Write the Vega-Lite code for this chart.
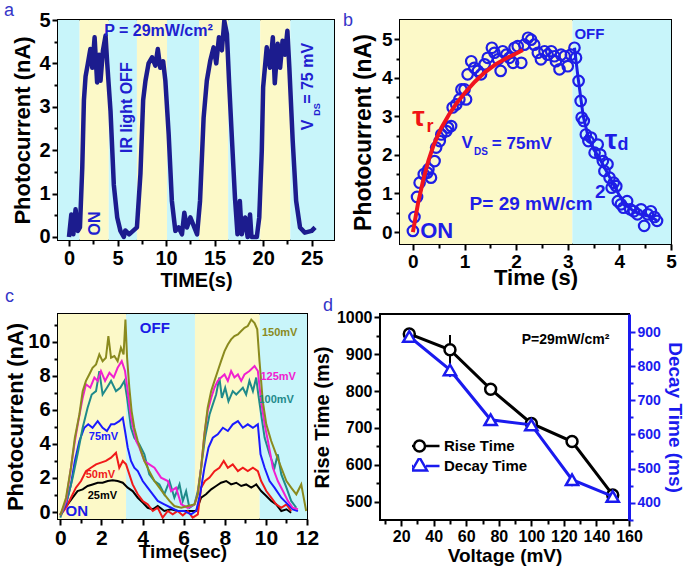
{
  "$schema": "https://vega.github.io/schema/vega-lite/v6.json",
  "padding": {"left": 3, "top": 1, "right": 0, "bottom": 0},
  "config": {
    "font": "Liberation Sans",
    "view": {"stroke": "black", "strokeWidth": 2},
    "axis": {"labelFont": "Liberation Sans", "labelFontWeight": "bold", "labelColor": "black", "titleFont": "Liberation Sans", "titleFontWeight": "bold", "titleColor": "black", "grid": false, "domain": false, "tickColor": "black", "tickWidth": 2, "tickSize": 6, "labelPadding": 2, "labelFlush": false},
    "title": {"anchor": "start", "frame": "group", "fontWeight": "normal", "color": "#3535c8", "fontSize": 18, "font": "Liberation Sans"},
    "legend": {"padding": 0}
  },
  "vconcat": [
    {
      "bounds": "flush",
      "spacing": 66,
      "hconcat": [
        {
          "width": 276, "height": 220,
          "title": {"text": "a", "dx": -54, "offset": -10},
          "resolve": {"axis": {"x": "independent", "y": "independent"}},
          "layer": [
            {
              "data": {"values": [
                {"x0": -1.13, "x1": 1.1, "c": "off"}, {"x0": 1.1, "x1": 4.1, "c": "on"}, {"x0": 4.1, "x1": 7.0, "c": "off"},
                {"x0": 7.0, "x1": 10.1, "c": "on"}, {"x0": 10.1, "x1": 13.4, "c": "off"}, {"x0": 13.4, "x1": 16.4, "c": "on"},
                {"x0": 16.4, "x1": 19.7, "c": "off"}, {"x0": 19.7, "x1": 22.8, "c": "on"}, {"x0": 22.8, "x1": 27.3, "c": "off"}
              ]},
              "mark": {"type": "rect", "clip": true},
              "encoding": {
                "x": {"field": "x0", "type": "quantitative", "scale": {"domain": [-1.13, 27.3], "nice": false, "zero": false}, "axis": {"values": [2.5, 7.5, 12.5, 17.5, 22.5, 27.5], "labels": false, "tickSize": 4, "title": null, "orient": "bottom"}},
                "x2": {"field": "x1"},
                "color": {"field": "c", "type": "nominal", "scale": {"domain": ["on", "off"], "range": ["#fcf9c8", "#c8f5fa"]}, "legend": null}
              }
            },
            {
              "data": {"values": [
                {"t": 0, "i": 0}, {"t": 0.24, "i": 0.52}, {"t": 0.45, "i": 0.06}, {"t": 0.68, "i": 0.64}, {"t": 0.92, "i": 0.14}, {"t": 1.13, "i": 0.22},
                {"t": 1.37, "i": 1.6}, {"t": 1.54, "i": 3.15}, {"t": 1.71, "i": 3.7}, {"t": 1.95, "i": 4.0}, {"t": 2.2, "i": 4.33}, {"t": 2.4, "i": 3.9},
                {"t": 2.64, "i": 4.6}, {"t": 2.9, "i": 3.56}, {"t": 3.1, "i": 4.2}, {"t": 3.25, "i": 3.6}, {"t": 3.5, "i": 4.3}, {"t": 3.77, "i": 4.64},
                {"t": 3.94, "i": 4.0}, {"t": 4.28, "i": 2.9}, {"t": 4.62, "i": 1.2}, {"t": 4.97, "i": 0.45}, {"t": 5.3, "i": 0.14}, {"t": 5.65, "i": 0},
                {"t": 5.8, "i": 0.15}, {"t": 6.2, "i": 0.06}, {"t": 7.0, "i": 0.22}, {"t": 7.36, "i": 1.45}, {"t": 7.64, "i": 3.15}, {"t": 7.88, "i": 3.6},
                {"t": 8.2, "i": 4.0}, {"t": 8.56, "i": 4.14}, {"t": 8.9, "i": 3.95}, {"t": 9.15, "i": 4.33}, {"t": 9.4, "i": 3.9}, {"t": 9.7, "i": 4.05},
                {"t": 9.93, "i": 3.6}, {"t": 10.27, "i": 2.37}, {"t": 10.6, "i": 0.83}, {"t": 10.96, "i": 0.14}, {"t": 11.3, "i": 0.22}, {"t": 11.64, "i": 0.06},
                {"t": 11.88, "i": 0.56}, {"t": 12.15, "i": 0.22}, {"t": 12.5, "i": 0.45}, {"t": 13.2, "i": 0.06}, {"t": 13.5, "i": 0.83}, {"t": 13.87, "i": 2.75},
                {"t": 14.2, "i": 3.6}, {"t": 14.55, "i": 4.06}, {"t": 14.9, "i": 4.37}, {"t": 15.17, "i": 4.0}, {"t": 15.45, "i": 4.6}, {"t": 15.75, "i": 4.3},
                {"t": 16.0, "i": 4.98}, {"t": 16.27, "i": 4.68}, {"t": 16.5, "i": 3.54}, {"t": 16.8, "i": 2.2}, {"t": 17.1, "i": 0.9}, {"t": 17.36, "i": 0.06},
                {"t": 17.6, "i": 0.83}, {"t": 17.8, "i": 0.06}, {"t": 18.15, "i": 0.45}, {"t": 18.4, "i": 0}, {"t": 18.65, "i": 0.52}, {"t": 18.8, "i": 0},
                {"t": 19.35, "i": 0}, {"t": 19.6, "i": 0.45}, {"t": 19.86, "i": 1.98}, {"t": 20.0, "i": 3.45}, {"t": 20.37, "i": 4.37}, {"t": 20.7, "i": 3.9},
                {"t": 21.0, "i": 4.6}, {"t": 21.2, "i": 3.54}, {"t": 21.5, "i": 4.45}, {"t": 21.75, "i": 3.9}, {"t": 22.0, "i": 4.52}, {"t": 22.25, "i": 4.2},
                {"t": 22.5, "i": 4.75}, {"t": 22.7, "i": 3.9}, {"t": 23.05, "i": 2.2}, {"t": 23.4, "i": 0.83}, {"t": 23.8, "i": 0.22}, {"t": 24.3, "i": 0.1},
                {"t": 25.0, "i": 0.14}, {"t": 25.35, "i": 0.22}
              ]},
              "mark": {"type": "line", "color": "#1c1c8e", "strokeWidth": 4.5, "strokeJoin": "round", "clip": true},
              "encoding": {
                "x": {"field": "t", "type": "quantitative", "scale": {"domain": [-1.13, 27.3], "nice": false, "zero": false}, "axis": {"values": [0, 5, 10, 15, 20, 25], "title": "TIME(s)", "labelFontSize": 20, "titleFontSize": 20, "orient": "bottom", "titlePadding": 2}},
                "y": {"field": "i", "type": "quantitative", "scale": {"domain": [-0.07, 5], "nice": false, "zero": false}, "axis": {"values": [0, 1, 2, 3, 4, 5], "title": "Photocurrent (nA)", "labelFontSize": 20, "titleFontSize": 22, "orient": "left", "titlePadding": 4}}
              }
            },
            {
              "data": {"values": [{"t": 9.22, "i": 4.75, "s": "P = 29mW/cm²"}]},
              "mark": {"type": "text", "color": "#2020d0", "fontWeight": "bold", "fontSize": 16},
              "encoding": {
                "x": {"field": "t", "type": "quantitative", "axis": null},
                "y": {"field": "i", "type": "quantitative", "axis": {"values": [0.5, 1.5, 2.5, 3.5, 4.5], "labels": false, "tickSize": 4, "title": null, "orient": "left"}},
                "text": {"field": "s"}
              }
            },
            {
              "data": {"values": [{"t": 6.0, "i": 2.98, "s": "IR light OFF"}, {"t": 2.65, "i": 0.31, "s": "ON"}, {"t": 24.65, "i": 2.58, "s": "V"}, {"t": 24.65, "i": 3.77, "s": "= 75 mV"}]},
              "mark": {"type": "text", "color": "#2020d0", "fontWeight": "bold", "fontSize": 16, "angle": 270},
              "encoding": {
                "x": {"field": "t", "type": "quantitative", "axis": null},
                "y": {"field": "i", "type": "quantitative", "axis": null},
                "text": {"field": "s"}
              }
            },
            {
              "data": {"values": [{"t": 25.6, "i": 2.94, "s": "DS"}]},
              "mark": {"type": "text", "color": "#2020d0", "fontWeight": "bold", "fontSize": 9, "angle": 270},
              "encoding": {
                "x": {"field": "t", "type": "quantitative", "axis": null},
                "y": {"field": "i", "type": "quantitative", "axis": null},
                "text": {"field": "s"}
              }
            }
          ]
        },
        {
          "width": 271, "height": 224,
          "title": {"text": "b", "dx": -57, "offset": -10},
          "resolve": {"scale": {"color": "independent"}, "axis": {"x": "independent", "y": "independent"}},
          "layer": [
            {
              "data": {"values": [{"x0": -0.25, "x1": 3.09, "c": "on"}, {"x0": 3.09, "x1": 5, "c": "off"}]},
              "mark": {"type": "rect", "clip": true},
              "encoding": {
                "x": {"field": "x0", "type": "quantitative", "scale": {"domain": [-0.25, 5], "nice": false, "zero": false}, "axis": {"values": [0.5, 1.5, 2.5, 3.5, 4.5], "labels": false, "tickSize": 4, "title": null, "orient": "bottom"}},
                "x2": {"field": "x1"},
                "color": {"field": "c", "type": "nominal", "scale": {"domain": ["on", "off"], "range": ["#fcf9c8", "#c8f5fa"]}, "legend": null}
              }
            },
            {
              "data": {"values": [
                {"t": 0, "i": 0.03}, {"t": 0.03, "i": 0.39}, {"t": 0.08, "i": 0.91}, {"t": 0.13, "i": 1.28}, {"t": 0.21, "i": 1.5}, {"t": 0.28, "i": 1.54},
                {"t": 0.3, "i": 1.63}, {"t": 0.35, "i": 1.41}, {"t": 0.42, "i": 1.84}, {"t": 0.45, "i": 2.19}, {"t": 0.52, "i": 2.36}, {"t": 0.55, "i": 2.53},
                {"t": 0.65, "i": 2.62}, {"t": 0.68, "i": 2.71}, {"t": 0.74, "i": 2.75}, {"t": 0.77, "i": 3.23}, {"t": 0.84, "i": 3.31}, {"t": 0.9, "i": 3.44},
                {"t": 0.94, "i": 3.7}, {"t": 1.0, "i": 3.7}, {"t": 1.03, "i": 3.44}, {"t": 1.06, "i": 4.09}, {"t": 1.13, "i": 4.43}, {"t": 1.19, "i": 4.26},
                {"t": 1.26, "i": 4.18}, {"t": 1.32, "i": 4.09}, {"t": 1.39, "i": 4.35}, {"t": 1.45, "i": 4.52}, {"t": 1.53, "i": 4.78}, {"t": 1.58, "i": 4.65},
                {"t": 1.65, "i": 4.48}, {"t": 1.7, "i": 4.18}, {"t": 1.74, "i": 4.69}, {"t": 1.81, "i": 4.6}, {"t": 1.87, "i": 4.52}, {"t": 1.94, "i": 4.39},
                {"t": 1.97, "i": 4.78}, {"t": 2.03, "i": 4.82}, {"t": 2.1, "i": 4.39}, {"t": 2.16, "i": 4.86}, {"t": 2.23, "i": 5.04}, {"t": 2.29, "i": 4.99},
                {"t": 2.35, "i": 4.86}, {"t": 2.42, "i": 4.65}, {"t": 2.48, "i": 4.48}, {"t": 2.55, "i": 4.69}, {"t": 2.61, "i": 4.6}, {"t": 2.68, "i": 4.69},
                {"t": 2.74, "i": 4.56}, {"t": 2.77, "i": 4.43}, {"t": 2.84, "i": 4.22}, {"t": 2.87, "i": 4.6}, {"t": 2.94, "i": 4.56}, {"t": 3.0, "i": 4.3},
                {"t": 3.06, "i": 4.6}, {"t": 3.13, "i": 4.78}, {"t": 3.16, "i": 4.52}, {"t": 3.21, "i": 3.92}, {"t": 3.25, "i": 3.4}, {"t": 3.27, "i": 2.97},
                {"t": 3.31, "i": 2.88}, {"t": 3.35, "i": 2.53}, {"t": 3.4, "i": 2.36}, {"t": 3.45, "i": 2.45}, {"t": 3.52, "i": 2.06}, {"t": 3.58, "i": 2.27},
                {"t": 3.63, "i": 2.01}, {"t": 3.68, "i": 1.84}, {"t": 3.71, "i": 1.58}, {"t": 3.77, "i": 1.76}, {"t": 3.81, "i": 1.41}, {"t": 3.85, "i": 1.15},
                {"t": 3.89, "i": 1.28}, {"t": 3.94, "i": 1.19}, {"t": 3.97, "i": 0.8}, {"t": 4.03, "i": 0.72}, {"t": 4.08, "i": 0.63}, {"t": 4.15, "i": 0.8},
                {"t": 4.21, "i": 0.59}, {"t": 4.28, "i": 0.54}, {"t": 4.35, "i": 0.46}, {"t": 4.42, "i": 0.59}, {"t": 4.48, "i": 0.16}, {"t": 4.55, "i": 0.46},
                {"t": 4.61, "i": 0.54}, {"t": 4.68, "i": 0.39}, {"t": 4.73, "i": 0.29}
              ]},
              "mark": {"type": "point", "shape": "circle", "filled": false, "color": "#1e1ee6", "strokeWidth": 2.2, "size": 110, "opacity": 1},
              "encoding": {
                "x": {"field": "t", "type": "quantitative", "scale": {"domain": [-0.25, 5], "nice": false, "zero": false}, "axis": {"values": [0, 1, 2, 3, 4, 5], "title": "Time (s)", "labelFontSize": 19, "titleFontSize": 22, "orient": "bottom", "titlePadding": -4}},
                "y": {"field": "i", "type": "quantitative", "scale": {"domain": [-0.31, 5.5], "nice": false, "zero": false}, "axis": {"values": [0, 1, 2, 3, 4, 5], "title": "Photocurrent (nA)", "labelFontSize": 19, "titleFontSize": 23, "orient": "left", "titlePadding": 6}}
              }
            },
            {
              "data": {"values": [
                {"t": 3.13, "i": 4.78}, {"t": 3.2, "i": 4.0}, {"t": 3.3, "i": 3.0}, {"t": 3.4, "i": 2.45}, {"t": 3.5, "i": 2.15}, {"t": 3.6, "i": 1.95},
                {"t": 3.7, "i": 1.7}, {"t": 3.8, "i": 1.45}, {"t": 3.9, "i": 1.2}, {"t": 4.0, "i": 0.95}, {"t": 4.1, "i": 0.75}, {"t": 4.2, "i": 0.62},
                {"t": 4.3, "i": 0.52}, {"t": 4.45, "i": 0.45}, {"t": 4.6, "i": 0.4}, {"t": 4.73, "i": 0.3}
              ]},
              "mark": {"type": "line", "color": "#1e1ee6", "strokeWidth": 3},
              "encoding": {
                "x": {"field": "t", "type": "quantitative", "axis": null},
                "y": {"field": "i", "type": "quantitative", "axis": {"values": [0.5, 1.5, 2.5, 3.5, 4.5], "labels": false, "tickSize": 4, "title": null, "orient": "left"}}
              }
            },
            {
              "data": {"values": [
                {"t": 0, "i": 0}, {"t": 0.1, "i": 0.75}, {"t": 0.2, "i": 1.35}, {"t": 0.3, "i": 1.85}, {"t": 0.4, "i": 2.25}, {"t": 0.55, "i": 2.7},
                {"t": 0.7, "i": 3.05}, {"t": 0.85, "i": 3.35}, {"t": 1.0, "i": 3.6}, {"t": 1.2, "i": 3.9}, {"t": 1.4, "i": 4.15}, {"t": 1.6, "i": 4.35},
                {"t": 1.8, "i": 4.5}, {"t": 2.0, "i": 4.63}, {"t": 2.13, "i": 4.72}
              ]},
              "mark": {"type": "line", "color": "#f0141e", "strokeWidth": 4},
              "encoding": {
                "x": {"field": "t", "type": "quantitative", "axis": null},
                "y": {"field": "i", "type": "quantitative", "axis": null}
              }
            },
            {
              "data": {"values": [{"t": 0.11, "i": 2.97, "s": "τ", "c": "r"}, {"t": 3.84, "i": 2.36, "s": "τ", "c": "b"}, {"t": 0.33, "i": 2.72, "s": "r", "c": "r"}, {"t": 4.07, "i": 2.26, "s": "d", "c": "b"}]},
              "mark": {"type": "text", "fontWeight": "bold", "fontSize": 28},
              "encoding": {
                "x": {"field": "t", "type": "quantitative", "axis": null},
                "y": {"field": "i", "type": "quantitative", "axis": null},
                "text": {"field": "s"},
                "size": {"condition": {"test": "datum.s === 'τ'", "value": 28}, "value": 18},
                "color": {"field": "c", "type": "nominal", "scale": {"domain": ["r", "b"], "range": ["#f01414", "#1e1ee6"]}, "legend": null}
              }
            },
            {
              "data": {"values": [{"t": 1.05, "i": 2.32, "s": "V"}, {"t": 2.11, "i": 2.29, "s": "= 75mV"}]},
              "mark": {"type": "text", "fontWeight": "bold", "fontSize": 17, "color": "#1e1ee6"},
              "encoding": {
                "x": {"field": "t", "type": "quantitative", "axis": null},
                "y": {"field": "i", "type": "quantitative", "axis": null},
                "text": {"field": "s"}
              }
            },
            {
              "data": {"values": [{"t": 2.29, "i": 0.72, "s": "P= 29 mW/cm"}, {"t": 3.63, "i": 1.03, "s": "2"}]},
              "mark": {"type": "text", "fontWeight": "bold", "fontSize": 19, "color": "#1e1ee6"},
              "encoding": {
                "x": {"field": "t", "type": "quantitative", "axis": null},
                "y": {"field": "i", "type": "quantitative", "axis": null},
                "text": {"field": "s"}
              }
            },
            {
              "data": {"values": [{"t": 1.32, "i": 2.08, "s": "DS"}]},
              "mark": {"type": "text", "fontWeight": "bold", "fontSize": 10, "color": "#1e1ee6"},
              "encoding": {
                "x": {"field": "t", "type": "quantitative", "axis": null},
                "y": {"field": "i", "type": "quantitative", "axis": null},
                "text": {"field": "s"}
              }
            },
            {
              "data": {"values": [{"t": 0.46, "i": 0.04, "s": "ON"}]},
              "mark": {"type": "text", "fontWeight": "bold", "fontSize": 22, "color": "#1e1ee6"},
              "encoding": {
                "x": {"field": "t", "type": "quantitative", "axis": null},
                "y": {"field": "i", "type": "quantitative", "axis": null},
                "text": {"field": "s"}
              }
            },
            {
              "data": {"values": [{"t": 3.42, "i": 5.13, "s": "OFF"}]},
              "mark": {"type": "text", "fontWeight": "bold", "fontSize": 15, "color": "#1e1ee6"},
              "encoding": {
                "x": {"field": "t", "type": "quantitative", "axis": null},
                "y": {"field": "i", "type": "quantitative", "axis": null},
                "text": {"field": "s"}
              }
            }
          ]
        }
      ]
    },
    {
      "bounds": "flush",
      "spacing": 73,
      "hconcat": [
        {
          "width": 249, "height": 205,
          "title": {"text": "c", "dx": -53, "offset": 8},
          "resolve": {"scale": {"color": "independent"}, "axis": {"x": "independent", "y": "independent"}},
          "layer": [
            {
              "data": {"values": [{"x0": -0.11, "x1": 3.2, "c": "on"}, {"x0": 3.2, "x1": 6.55, "c": "off"}, {"x0": 6.55, "x1": 9.7, "c": "on"}, {"x0": 9.7, "x1": 12, "c": "off"}]},
              "mark": {"type": "rect", "clip": true},
              "encoding": {
                "x": {"field": "x0", "type": "quantitative", "scale": {"domain": [-0.11, 12], "nice": false, "zero": false}, "axis": {"values": [1, 3, 5, 7, 9, 11], "labels": false, "tickSize": 4, "title": null, "orient": "bottom"}},
                "x2": {"field": "x1"},
                "color": {"field": "c", "type": "nominal", "scale": {"domain": ["on", "off"], "range": ["#fcf9c8", "#c8f5fa"]}, "legend": null}
              }
            },
            {
              "data": {"values": [
                {"v": "25mV", "t": 0, "i": -0.14}, {"v": "25mV", "t": 0.36, "i": 0.45}, {"v": "25mV", "t": 0.6, "i": 0.84}, {"v": "25mV", "t": 0.84, "i": 1.23}, {"v": "25mV", "t": 1.09, "i": 1.33}, {"v": "25mV", "t": 1.33, "i": 1.53}, {"v": "25mV", "t": 1.57, "i": 1.62}, {"v": "25mV", "t": 1.82, "i": 1.72}, {"v": "25mV", "t": 2.06, "i": 1.72}, {"v": "25mV", "t": 2.31, "i": 1.82}, {"v": "25mV", "t": 2.55, "i": 1.86}, {"v": "25mV", "t": 2.79, "i": 1.82}, {"v": "25mV", "t": 3.04, "i": 1.72}, {"v": "25mV", "t": 3.28, "i": 1.43}, {"v": "25mV", "t": 3.52, "i": 1.23}, {"v": "25mV", "t": 3.77, "i": 0.84}, {"v": "25mV", "t": 4.01, "i": 0.55}, {"v": "25mV", "t": 4.25, "i": 0.25}, {"v": "25mV", "t": 4.5, "i": 0.16}, {"v": "25mV", "t": 4.74, "i": 0.35}, {"v": "25mV", "t": 5.06, "i": 0.06}, {"v": "25mV", "t": 5.39, "i": 0.16}, {"v": "25mV", "t": 5.71, "i": 0.06}, {"v": "25mV", "t": 6.2, "i": 0.06}, {"v": "25mV", "t": 6.61, "i": 0.06}, {"v": "25mV", "t": 6.85, "i": 0.84}, {"v": "25mV", "t": 7.09, "i": 1.04}, {"v": "25mV", "t": 7.34, "i": 1.33}, {"v": "25mV", "t": 7.58, "i": 1.53}, {"v": "25mV", "t": 7.82, "i": 1.72}, {"v": "25mV", "t": 8.07, "i": 1.82}, {"v": "25mV", "t": 8.31, "i": 1.62}, {"v": "25mV", "t": 8.56, "i": 1.72}, {"v": "25mV", "t": 8.8, "i": 1.53}, {"v": "25mV", "t": 9.04, "i": 1.62}, {"v": "25mV", "t": 9.29, "i": 1.43}, {"v": "25mV", "t": 9.53, "i": 1.62}, {"v": "25mV", "t": 9.77, "i": 1.23}, {"v": "25mV", "t": 10.02, "i": 0.94}, {"v": "25mV", "t": 10.26, "i": 0.65}, {"v": "25mV", "t": 10.5, "i": 0.45}, {"v": "25mV", "t": 10.75, "i": 0.06}, {"v": "25mV", "t": 11.0, "i": 0.16}, {"v": "25mV", "t": 11.23, "i": -0.04},
                {"v": "50mV", "t": 0, "i": -0.2}, {"v": "50mV", "t": 0.28, "i": 0.25}, {"v": "50mV", "t": 0.52, "i": 0.84}, {"v": "50mV", "t": 0.76, "i": 1.43}, {"v": "50mV", "t": 1.01, "i": 1.82}, {"v": "50mV", "t": 1.25, "i": 2.4}, {"v": "50mV", "t": 1.49, "i": 2.6}, {"v": "50mV", "t": 1.74, "i": 2.8}, {"v": "50mV", "t": 1.98, "i": 2.9}, {"v": "50mV", "t": 2.22, "i": 3.0}, {"v": "50mV", "t": 2.47, "i": 3.19}, {"v": "50mV", "t": 2.71, "i": 3.48}, {"v": "50mV", "t": 2.87, "i": 2.6}, {"v": "50mV", "t": 3.04, "i": 3.0}, {"v": "50mV", "t": 3.2, "i": 2.8}, {"v": "50mV", "t": 3.36, "i": 2.21}, {"v": "50mV", "t": 3.52, "i": 1.62}, {"v": "50mV", "t": 3.77, "i": 1.04}, {"v": "50mV", "t": 4.01, "i": 0.65}, {"v": "50mV", "t": 4.25, "i": 0.45}, {"v": "50mV", "t": 4.5, "i": 0.06}, {"v": "50mV", "t": 4.74, "i": 0.25}, {"v": "50mV", "t": 4.98, "i": -0.33}, {"v": "50mV", "t": 5.23, "i": 0.06}, {"v": "50mV", "t": 5.47, "i": -0.14}, {"v": "50mV", "t": 5.71, "i": 0.06}, {"v": "50mV", "t": 5.96, "i": -0.2}, {"v": "50mV", "t": 6.2, "i": 0.06}, {"v": "50mV", "t": 6.44, "i": -0.33}, {"v": "50mV", "t": 6.69, "i": -0.14}, {"v": "50mV", "t": 6.85, "i": 1.43}, {"v": "50mV", "t": 7.04, "i": 1.82}, {"v": "50mV", "t": 7.26, "i": 2.02}, {"v": "50mV", "t": 7.5, "i": 2.4}, {"v": "50mV", "t": 7.74, "i": 2.6}, {"v": "50mV", "t": 7.95, "i": 3.0}, {"v": "50mV", "t": 8.15, "i": 2.6}, {"v": "50mV", "t": 8.39, "i": 2.8}, {"v": "50mV", "t": 8.64, "i": 2.4}, {"v": "50mV", "t": 8.88, "i": 2.6}, {"v": "50mV", "t": 9.12, "i": 2.4}, {"v": "50mV", "t": 9.37, "i": 2.6}, {"v": "50mV", "t": 9.61, "i": 2.4}, {"v": "50mV", "t": 9.77, "i": 1.82}, {"v": "50mV", "t": 10.02, "i": 1.23}, {"v": "50mV", "t": 10.26, "i": 0.84}, {"v": "50mV", "t": 10.5, "i": 0.45}, {"v": "50mV", "t": 10.75, "i": 0.25}, {"v": "50mV", "t": 11.0, "i": 0.45}, {"v": "50mV", "t": 11.23, "i": 0.06},
                {"v": "75mV", "t": 0, "i": -0.2}, {"v": "75mV", "t": 0.28, "i": 0.45}, {"v": "75mV", "t": 0.52, "i": 1.62}, {"v": "75mV", "t": 0.71, "i": 3.0}, {"v": "75mV", "t": 0.93, "i": 4.17}, {"v": "75mV", "t": 1.17, "i": 4.95}, {"v": "75mV", "t": 1.36, "i": 5.15}, {"v": "75mV", "t": 1.57, "i": 4.95}, {"v": "75mV", "t": 1.82, "i": 5.34}, {"v": "75mV", "t": 2.06, "i": 4.95}, {"v": "75mV", "t": 2.27, "i": 4.76}, {"v": "75mV", "t": 2.47, "i": 5.15}, {"v": "75mV", "t": 2.63, "i": 5.15}, {"v": "75mV", "t": 2.87, "i": 5.34}, {"v": "75mV", "t": 3.04, "i": 5.54}, {"v": "75mV", "t": 3.15, "i": 4.76}, {"v": "75mV", "t": 3.28, "i": 3.78}, {"v": "75mV", "t": 3.44, "i": 3.0}, {"v": "75mV", "t": 3.6, "i": 2.6}, {"v": "75mV", "t": 3.77, "i": 2.4}, {"v": "75mV", "t": 4.01, "i": 1.82}, {"v": "75mV", "t": 4.25, "i": 1.43}, {"v": "75mV", "t": 4.5, "i": 1.04}, {"v": "75mV", "t": 4.74, "i": 0.65}, {"v": "75mV", "t": 5.06, "i": 0.45}, {"v": "75mV", "t": 5.39, "i": 0.25}, {"v": "75mV", "t": 5.71, "i": 0.06}, {"v": "75mV", "t": 6.04, "i": 0.06}, {"v": "75mV", "t": 6.36, "i": -0.14}, {"v": "75mV", "t": 6.61, "i": 0.06}, {"v": "75mV", "t": 6.8, "i": 1.04}, {"v": "75mV", "t": 7.01, "i": 2.6}, {"v": "75mV", "t": 7.21, "i": 3.78}, {"v": "75mV", "t": 7.42, "i": 4.36}, {"v": "75mV", "t": 7.66, "i": 4.56}, {"v": "75mV", "t": 7.91, "i": 4.95}, {"v": "75mV", "t": 8.15, "i": 4.76}, {"v": "75mV", "t": 8.39, "i": 5.15}, {"v": "75mV", "t": 8.64, "i": 5.34}, {"v": "75mV", "t": 8.88, "i": 4.95}, {"v": "75mV", "t": 9.12, "i": 5.15}, {"v": "75mV", "t": 9.37, "i": 4.95}, {"v": "75mV", "t": 9.61, "i": 5.15}, {"v": "75mV", "t": 9.74, "i": 3.39}, {"v": "75mV", "t": 9.94, "i": 2.6}, {"v": "75mV", "t": 10.18, "i": 1.82}, {"v": "75mV", "t": 10.42, "i": 1.43}, {"v": "75mV", "t": 10.75, "i": 0.84}, {"v": "75mV", "t": 11.07, "i": 0.45}, {"v": "75mV", "t": 11.31, "i": 0.16}, {"v": "75mV", "t": 11.56, "i": 0.06},
                {"v": "100mV", "t": 0, "i": -0.33}, {"v": "100mV", "t": 0.36, "i": 0.84}, {"v": "100mV", "t": 0.6, "i": 2.0}, {"v": "100mV", "t": 0.84, "i": 3.39}, {"v": "100mV", "t": 1.09, "i": 4.95}, {"v": "100mV", "t": 1.33, "i": 6.13}, {"v": "100mV", "t": 1.53, "i": 6.9}, {"v": "100mV", "t": 1.74, "i": 7.1}, {"v": "100mV", "t": 1.9, "i": 8.28}, {"v": "100mV", "t": 2.06, "i": 6.9}, {"v": "100mV", "t": 2.27, "i": 7.3}, {"v": "100mV", "t": 2.47, "i": 7.7}, {"v": "100mV", "t": 2.71, "i": 7.1}, {"v": "100mV", "t": 2.92, "i": 7.3}, {"v": "100mV", "t": 3.12, "i": 7.7}, {"v": "100mV", "t": 3.25, "i": 6.7}, {"v": "100mV", "t": 3.44, "i": 4.95}, {"v": "100mV", "t": 3.6, "i": 4.36}, {"v": "100mV", "t": 3.85, "i": 3.97}, {"v": "100mV", "t": 4.09, "i": 3.39}, {"v": "100mV", "t": 4.33, "i": 2.21}, {"v": "100mV", "t": 4.58, "i": 1.82}, {"v": "100mV", "t": 4.82, "i": 1.62}, {"v": "100mV", "t": 5.06, "i": 1.04}, {"v": "100mV", "t": 5.31, "i": 1.82}, {"v": "100mV", "t": 5.55, "i": 0.84}, {"v": "100mV", "t": 5.8, "i": 1.62}, {"v": "100mV", "t": 5.96, "i": 0.65}, {"v": "100mV", "t": 6.12, "i": 1.23}, {"v": "100mV", "t": 6.28, "i": 0.25}, {"v": "100mV", "t": 6.53, "i": 0.45}, {"v": "100mV", "t": 6.69, "i": 1.23}, {"v": "100mV", "t": 6.85, "i": 2.6}, {"v": "100mV", "t": 7.04, "i": 4.36}, {"v": "100mV", "t": 7.26, "i": 5.73}, {"v": "100mV", "t": 7.42, "i": 6.32}, {"v": "100mV", "t": 7.58, "i": 6.9}, {"v": "100mV", "t": 7.74, "i": 7.9}, {"v": "100mV", "t": 7.86, "i": 6.7}, {"v": "100mV", "t": 8.02, "i": 7.3}, {"v": "100mV", "t": 8.18, "i": 6.5}, {"v": "100mV", "t": 8.39, "i": 7.1}, {"v": "100mV", "t": 8.56, "i": 6.9}, {"v": "100mV", "t": 8.72, "i": 7.1}, {"v": "100mV", "t": 8.88, "i": 7.3}, {"v": "100mV", "t": 9.04, "i": 6.9}, {"v": "100mV", "t": 9.2, "i": 7.7}, {"v": "100mV", "t": 9.37, "i": 7.1}, {"v": "100mV", "t": 9.53, "i": 7.9}, {"v": "100mV", "t": 9.61, "i": 7.1}, {"v": "100mV", "t": 9.77, "i": 5.73}, {"v": "100mV", "t": 9.94, "i": 4.36}, {"v": "100mV", "t": 10.18, "i": 3.39}, {"v": "100mV", "t": 10.42, "i": 2.6}, {"v": "100mV", "t": 10.58, "i": 3.39}, {"v": "100mV", "t": 10.75, "i": 2.21}, {"v": "100mV", "t": 11.0, "i": 1.43}, {"v": "100mV", "t": 11.23, "i": 0.65}, {"v": "100mV", "t": 11.48, "i": 0.25},
                {"v": "125mV", "t": 0, "i": -0.2}, {"v": "125mV", "t": 0.28, "i": 0.65}, {"v": "125mV", "t": 0.52, "i": 2.6}, {"v": "125mV", "t": 0.71, "i": 4.17}, {"v": "125mV", "t": 0.88, "i": 5.34}, {"v": "125mV", "t": 1.09, "i": 6.7}, {"v": "125mV", "t": 1.25, "i": 7.5}, {"v": "125mV", "t": 1.46, "i": 7.3}, {"v": "125mV", "t": 1.66, "i": 7.9}, {"v": "125mV", "t": 1.82, "i": 7.7}, {"v": "125mV", "t": 1.98, "i": 8.28}, {"v": "125mV", "t": 2.18, "i": 7.7}, {"v": "125mV", "t": 2.39, "i": 8.18}, {"v": "125mV", "t": 2.6, "i": 7.9}, {"v": "125mV", "t": 2.79, "i": 8.47}, {"v": "125mV", "t": 2.99, "i": 8.86}, {"v": "125mV", "t": 3.15, "i": 8.28}, {"v": "125mV", "t": 3.28, "i": 7.1}, {"v": "125mV", "t": 3.44, "i": 5.54}, {"v": "125mV", "t": 3.69, "i": 4.17}, {"v": "125mV", "t": 3.85, "i": 3.78}, {"v": "125mV", "t": 4.09, "i": 3.0}, {"v": "125mV", "t": 4.33, "i": 2.8}, {"v": "125mV", "t": 4.58, "i": 2.6}, {"v": "125mV", "t": 4.9, "i": 2.02}, {"v": "125mV", "t": 5.23, "i": 1.82}, {"v": "125mV", "t": 5.39, "i": 1.23}, {"v": "125mV", "t": 5.63, "i": 1.43}, {"v": "125mV", "t": 5.88, "i": 0.45}, {"v": "125mV", "t": 6.2, "i": 0.25}, {"v": "125mV", "t": 6.53, "i": 0.45}, {"v": "125mV", "t": 6.69, "i": 1.04}, {"v": "125mV", "t": 6.85, "i": 2.6}, {"v": "125mV", "t": 7.01, "i": 4.56}, {"v": "125mV", "t": 7.17, "i": 5.93}, {"v": "125mV", "t": 7.34, "i": 6.7}, {"v": "125mV", "t": 7.5, "i": 7.3}, {"v": "125mV", "t": 7.66, "i": 7.7}, {"v": "125mV", "t": 7.82, "i": 7.9}, {"v": "125mV", "t": 7.99, "i": 8.08}, {"v": "125mV", "t": 8.15, "i": 7.7}, {"v": "125mV", "t": 8.31, "i": 8.28}, {"v": "125mV", "t": 8.47, "i": 7.9}, {"v": "125mV", "t": 8.64, "i": 8.08}, {"v": "125mV", "t": 8.8, "i": 7.7}, {"v": "125mV", "t": 8.96, "i": 8.08}, {"v": "125mV", "t": 9.2, "i": 8.28}, {"v": "125mV", "t": 9.45, "i": 8.57}, {"v": "125mV", "t": 9.61, "i": 8.28}, {"v": "125mV", "t": 9.77, "i": 6.5}, {"v": "125mV", "t": 9.94, "i": 5.15}, {"v": "125mV", "t": 10.1, "i": 4.17}, {"v": "125mV", "t": 10.34, "i": 2.6}, {"v": "125mV", "t": 10.58, "i": 1.82}, {"v": "125mV", "t": 10.83, "i": 1.23}, {"v": "125mV", "t": 11.07, "i": 0.65}, {"v": "125mV", "t": 11.31, "i": 0.25}, {"v": "125mV", "t": 11.56, "i": 0.16},
                {"v": "150mV", "t": 0, "i": -0.2}, {"v": "150mV", "t": 0.28, "i": 0.84}, {"v": "150mV", "t": 0.52, "i": 2.6}, {"v": "150mV", "t": 0.71, "i": 4.36}, {"v": "150mV", "t": 0.93, "i": 5.73}, {"v": "150mV", "t": 1.09, "i": 7.1}, {"v": "150mV", "t": 1.25, "i": 7.7}, {"v": "150mV", "t": 1.41, "i": 8.08}, {"v": "150mV", "t": 1.57, "i": 8.47}, {"v": "150mV", "t": 1.74, "i": 8.67}, {"v": "150mV", "t": 1.9, "i": 9.26}, {"v": "150mV", "t": 2.06, "i": 8.86}, {"v": "150mV", "t": 2.22, "i": 9.06}, {"v": "150mV", "t": 2.34, "i": 10.33}, {"v": "150mV", "t": 2.47, "i": 9.06}, {"v": "150mV", "t": 2.63, "i": 9.16}, {"v": "150mV", "t": 2.79, "i": 8.86}, {"v": "150mV", "t": 2.95, "i": 9.65}, {"v": "150mV", "t": 3.08, "i": 9.26}, {"v": "150mV", "t": 3.17, "i": 11.3}, {"v": "150mV", "t": 3.25, "i": 9.06}, {"v": "150mV", "t": 3.36, "i": 7.3}, {"v": "150mV", "t": 3.47, "i": 5.93}, {"v": "150mV", "t": 3.6, "i": 4.95}, {"v": "150mV", "t": 3.77, "i": 4.17}, {"v": "150mV", "t": 3.93, "i": 3.58}, {"v": "150mV", "t": 4.09, "i": 3.0}, {"v": "150mV", "t": 4.33, "i": 2.4}, {"v": "150mV", "t": 4.58, "i": 1.82}, {"v": "150mV", "t": 4.82, "i": 1.43}, {"v": "150mV", "t": 5.06, "i": 1.04}, {"v": "150mV", "t": 5.31, "i": 0.65}, {"v": "150mV", "t": 5.55, "i": 0.35}, {"v": "150mV", "t": 5.88, "i": 0.25}, {"v": "150mV", "t": 6.2, "i": 0.35}, {"v": "150mV", "t": 6.53, "i": 0.45}, {"v": "150mV", "t": 6.69, "i": 1.04}, {"v": "150mV", "t": 6.85, "i": 2.6}, {"v": "150mV", "t": 7.01, "i": 4.56}, {"v": "150mV", "t": 7.17, "i": 6.13}, {"v": "150mV", "t": 7.34, "i": 7.1}, {"v": "150mV", "t": 7.5, "i": 7.7}, {"v": "150mV", "t": 7.66, "i": 8.28}, {"v": "150mV", "t": 7.82, "i": 8.86}, {"v": "150mV", "t": 7.99, "i": 9.45}, {"v": "150mV", "t": 8.15, "i": 9.84}, {"v": "150mV", "t": 8.31, "i": 10.14}, {"v": "150mV", "t": 8.47, "i": 10.33}, {"v": "150mV", "t": 8.64, "i": 10.43}, {"v": "150mV", "t": 8.8, "i": 10.63}, {"v": "150mV", "t": 8.96, "i": 10.82}, {"v": "150mV", "t": 9.12, "i": 10.92}, {"v": "150mV", "t": 9.29, "i": 11.3}, {"v": "150mV", "t": 9.45, "i": 11.1}, {"v": "150mV", "t": 9.58, "i": 10.73}, {"v": "150mV", "t": 9.69, "i": 8.86}, {"v": "150mV", "t": 9.85, "i": 6.5}, {"v": "150mV", "t": 10.02, "i": 5.15}, {"v": "150mV", "t": 10.26, "i": 4.17}, {"v": "150mV", "t": 10.5, "i": 3.39}, {"v": "150mV", "t": 10.75, "i": 2.6}, {"v": "150mV", "t": 11.0, "i": 1.82}, {"v": "150mV", "t": 11.23, "i": 1.43}, {"v": "150mV", "t": 11.48, "i": 1.04}, {"v": "150mV", "t": 11.72, "i": 1.62}, {"v": "150mV", "t": 11.96, "i": 0.06}
              ]},
              "mark": {"type": "line", "strokeWidth": 2, "clip": true},
              "encoding": {
                "x": {"field": "t", "type": "quantitative", "scale": {"domain": [-0.11, 12], "nice": false, "zero": false}, "axis": {"values": [0, 2, 4, 6, 8, 10, 12], "title": "Time(sec)", "labelFontSize": 21, "titleFontSize": 19, "orient": "bottom", "titlePadding": -6}},
                "y": {"field": "i", "type": "quantitative", "scale": {"domain": [-0.41, 11.63], "nice": false, "zero": false}, "axis": {"values": [0, 2, 4, 6, 8, 10], "title": "Photocurrent (nA)", "labelFontSize": 20, "titleFontSize": 22, "orient": "left", "titlePadding": 0}},
                "color": {"field": "v", "type": "nominal", "scale": {"domain": ["25mV", "50mV", "75mV", "100mV", "125mV", "150mV"], "range": ["#000000", "#f01a1a", "#1a1aff", "#1f8a8a", "#f020d0", "#8a8a1e"]}, "legend": null},
                "order": {"field": "t", "type": "quantitative"}
              }
            },
            {
              "data": {"values": [
                {"v": "150mV", "t": 10.67, "i": 10.53}, {"v": "125mV", "t": 10.6, "i": 7.93}, {"v": "100mV", "t": 10.5, "i": 6.6},
                {"v": "75mV", "t": 2.1, "i": 4.4}, {"v": "50mV", "t": 1.95, "i": 2.2}, {"v": "25mV", "t": 2.05, "i": 0.94}
              ]},
              "mark": {"type": "text", "fontWeight": "bold", "fontSize": 11},
              "encoding": {
                "x": {"field": "t", "type": "quantitative", "axis": null},
                "y": {"field": "i", "type": "quantitative", "axis": {"values": [1, 3, 5, 7, 9, 11], "labels": false, "tickSize": 4, "title": null, "orient": "left"}},
                "text": {"field": "v"},
                "color": {"field": "v", "type": "nominal", "scale": {"domain": ["25mV", "50mV", "75mV", "100mV", "125mV", "150mV"], "range": ["#000000", "#f01a1a", "#1a1aff", "#1f8a8a", "#f020d0", "#8a8a1e"]}, "legend": null}
              }
            },
            {
              "data": {"values": [{"t": 0.8, "i": 0.06, "s": "ON"}, {"t": 4.6, "i": 10.8, "s": "OFF"}]},
              "mark": {"type": "text", "fontWeight": "bold", "fontSize": 15, "color": "#1a1ae6"},
              "encoding": {
                "x": {"field": "t", "type": "quantitative", "axis": null},
                "y": {"field": "i", "type": "quantitative", "axis": null},
                "text": {"field": "s"}
              }
            }
          ]
        },
        {
          "width": 249, "height": 206,
          "title": {"text": "d", "dx": -57, "offset": -6},
          "resolve": {"scale": {"y": "independent", "shape": "independent"}, "axis": {"x": "independent", "y": "independent"}, "legend": {"shape": "independent"}},
          "layer": [
            {
              "resolve": {"axis": {"x": "independent", "y": "independent"}},
              "layer": [
                {
                  "data": {"values": [{"v": 25, "lo": 948, "hi": 962}, {"v": 50, "lo": 870, "hi": 952}, {"v": 75, "lo": 795, "hi": 812}, {"v": 100, "lo": 700, "hi": 718}, {"v": 125, "lo": 652, "hi": 672}, {"v": 150, "lo": 510, "hi": 525}]},
                  "mark": {"type": "rule", "color": "black", "strokeWidth": 2},
                  "encoding": {
                    "x": {"field": "v", "type": "quantitative", "scale": {"domain": [7, 160], "nice": false, "zero": false}, "axis": {"values": [10, 30, 50, 70, 90, 110, 130, 150], "labels": false, "tickSize": 4, "title": null, "orient": "bottom"}},
                    "y": {"field": "lo", "type": "quantitative", "scale": {"domain": [450, 1009], "nice": false, "zero": false}, "axis": {"values": [550, 650, 750, 850, 950], "labels": false, "tickSize": 4, "title": null, "orient": "left"}},
                    "y2": {"field": "hi"}
                  }
                },
                {
                  "data": {"values": [{"v": 25, "r": 955}, {"v": 50, "r": 912}, {"v": 75, "r": 805}, {"v": 100, "r": 712}, {"v": 125, "r": 663}, {"v": 150, "r": 518}]},
                  "mark": {"type": "line", "color": "black", "strokeWidth": 3, "point": {"shape": "circle", "filled": true, "fill": "white", "stroke": "black", "strokeWidth": 2.5, "size": 120}},
                  "encoding": {
                    "x": {"field": "v", "type": "quantitative", "scale": {"domain": [7, 160], "nice": false, "zero": false}, "axis": {"values": [20, 40, 60, 80, 100, 120, 140, 160], "title": "Voltage (mV)", "labelFontSize": 16, "titleFontSize": 19, "orient": "bottom", "titlePadding": 2, "labelOverlap": false}},
                    "y": {"field": "r", "type": "quantitative", "scale": {"domain": [450, 1009], "nice": false, "zero": false}, "axis": {"values": [500, 600, 700, 800, 900, 1000], "format": "d", "title": "Rise Time (ms)", "labelFontSize": 16, "titleFontSize": 20, "orient": "left", "titlePadding": 4, "labelOverlap": false}}
                  }
                }
              ]
            },
            {
              "resolve": {"axis": {"x": "independent", "y": "independent"}},
              "layer": [
                {
                  "data": {"values": [{"v": 25, "lo": 872, "hi": 890}, {"v": 50, "lo": 768, "hi": 790}, {"v": 75, "lo": 628, "hi": 645}, {"v": 100, "lo": 614, "hi": 630}, {"v": 125, "lo": 448, "hi": 468}, {"v": 150, "lo": 404, "hi": 420}]},
                  "mark": {"type": "rule", "color": "#1a1aee", "strokeWidth": 2},
                  "encoding": {
                    "x": {"field": "v", "type": "quantitative", "axis": null},
                    "y": {"field": "lo", "type": "quantitative", "scale": {"domain": [349, 953], "nice": false, "zero": false}, "axis": {"values": [350, 450, 550, 650, 750, 850], "labels": false, "tickSize": 4, "title": null, "orient": "right", "tickColor": "#1a1aee"}},
                    "y2": {"field": "hi"}
                  }
                },
                {
                  "data": {"values": [{"v": 25, "d": 887}, {"v": 50, "d": 789}, {"v": 75, "d": 643}, {"v": 100, "d": 628}, {"v": 125, "d": 467}, {"v": 150, "d": 418}]},
                  "mark": {"type": "line", "color": "#1a1aee", "strokeWidth": 3, "point": {"shape": "triangle-up", "filled": true, "fill": "white", "stroke": "#1a1aee", "strokeWidth": 2.5, "size": 150}},
                  "encoding": {
                    "x": {"field": "v", "type": "quantitative", "axis": null},
                    "y": {"field": "d", "type": "quantitative", "scale": {"domain": [349, 953], "nice": false, "zero": false}, "axis": {"values": [400, 500, 600, 700, 800, 900], "title": "Decay Time (ms)", "labelFontSize": 14, "titleFontSize": 19, "orient": "right", "labelColor": "#1a1aee", "titleColor": "#1a1aee", "tickColor": "#1a1aee", "domain": true, "domainColor": "#1a1aee", "domainWidth": 3, "titlePadding": 4}}
                  }
                }
              ]
            },
            {
              "data": {"values": [{"v": 121, "r": 939, "s": "P=29mW/cm²"}]},
              "mark": {"type": "text", "fontWeight": "bold", "fontSize": 14, "color": "black"},
              "encoding": {
                "x": {"field": "v", "type": "quantitative", "axis": null},
                "y": {"field": "r", "type": "quantitative", "scale": {"domain": [450, 1009], "nice": false, "zero": false}, "axis": null},
                "text": {"field": "s"}
              }
            },
            {
              "data": {"values": [{"s": "Rise Time"}]},
              "mark": {"type": "point", "opacity": 0, "size": 100, "filled": false, "strokeWidth": 2.5},
              "encoding": {
                "shape": {"field": "s", "type": "nominal", "scale": {"domain": ["Rise Time"], "range": ["M-4,0H-1.1M1.1,0H4M-1.1,0A1.1,1.1,0,1,1,1.1,0A1.1,1.1,0,1,1,-1.1,0"]}, "legend": {"orient": "none", "legendX": 32, "legendY": 124, "title": null, "labelFontSize": 15, "labelFontWeight": "bold", "labelFont": "Liberation Sans", "labelColor": "black", "symbolOpacity": 1, "symbolStrokeWidth": 2.5, "symbolStrokeColor": "black", "symbolFillColor": "white", "clipHeight": 16, "labelOffset": 17}}
              }
            },
            {
              "data": {"values": [{"s": "Decay Time"}]},
              "mark": {"type": "point", "opacity": 0, "size": 100, "filled": false, "strokeWidth": 2.5},
              "encoding": {
                "shape": {"field": "s", "type": "nominal", "scale": {"domain": ["Decay Time"], "range": ["M-4,0H-1.3M1.3,0H4M-1.5,0.9L0,-1.7L1.5,0.9Z"]}, "legend": {"orient": "none", "legendX": 32, "legendY": 144, "title": null, "labelFontSize": 15, "labelFontWeight": "bold", "labelFont": "Liberation Sans", "labelColor": "black", "symbolOpacity": 1, "symbolStrokeWidth": 2.5, "symbolStrokeColor": "#1a1aee", "symbolFillColor": "white", "clipHeight": 16, "labelOffset": 17}}
              }
            }
          ]
        }
      ]
    }
  ],
  "spacing": -4
}
